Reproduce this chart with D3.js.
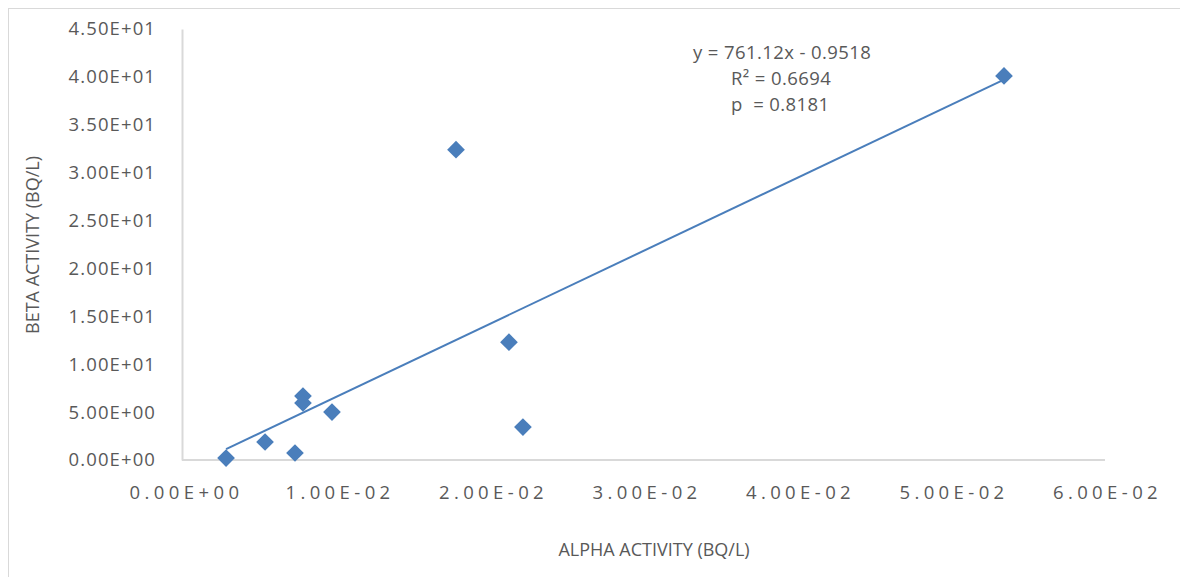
<!DOCTYPE html>
<html>
<head>
<meta charset="utf-8">
<script src="https://cdn.jsdelivr.net/npm/d3@7"></script>
<style>
  body { margin: 0; background: #fff; }
  text { font-family: "Open Sans", "Liberation Sans", sans-serif; fill: #595959; white-space: pre; }
</style>
</head>
<body>
<script>
// alpha activity (Bq/L) vs beta activity (Bq/L)
var alpha = [0.00274, 0.00528, 0.00723, 0.00775, 0.00775, 0.00964, 0.01772, 0.02117, 0.02208, 0.05342];
var beta  = [0.2, 1.88, 0.73, 6.68, 5.95, 5.0, 32.4, 12.3, 3.44, 40.1];
var xTicks = [0, 0.01, 0.02, 0.03, 0.04, 0.05, 0.06];
var yTicks = [0, 5, 10, 15, 20, 25, 30, 35, 40, 45];
var slope = 761.12, intercept = -0.9518;
var fitLabels = ["y = 761.12x - 0.9518", "R² = 0.6694", "p  = 0.8181"];

var W = 1180, H = 577;
var svg = d3.select("body").append("svg").attr("width", W).attr("height", H);

// outer chart border
svg.append("rect").attr("x", 8.5).attr("y", 8.5).attr("width", W - 8).attr("height", H - 8)
  .attr("fill", "none").attr("stroke", "#d9d9d9");

var x = d3.scaleLinear().domain([0, 0.06]).range([184, 1105]);
var y = d3.scaleLinear().domain([0, 45]).range([460, 29]);

function sci(d) { return d3.format(".2e")(d).replace(/e([+-])(\d)$/, "e$10$2").toUpperCase(); }

// axes
var yAxis = svg.append("g").attr("transform", "translate(182,0)")
  .call(d3.axisLeft(y).tickValues(yTicks).tickSize(0).tickPadding(26).tickFormat(sci));
yAxis.select(".domain").attr("stroke", "#d9d9d9").attr("stroke-width", 2);
yAxis.selectAll("text").attr("font-size", 18.5).attr("letter-spacing", 1.1).style("fill", "#595959");

var xAxis = svg.append("g").attr("transform", "translate(0,460)")
  .call(d3.axisBottom(x).tickValues(xTicks).tickSize(0).tickPadding(26).tickFormat(sci));
xAxis.select(".domain").attr("stroke", "#d9d9d9").attr("stroke-width", 2).attr("d", "M182,0H1105");
xAxis.selectAll("text").attr("font-size", 18.5).attr("letter-spacing", 4.4).attr("dx", 2).style("fill", "#595959");

// trend line
var xmin = d3.min(alpha), xmax = d3.max(alpha);
svg.append("line")
  .attr("x1", x(xmin)).attr("y1", y(slope * xmin + intercept))
  .attr("x2", x(xmax)).attr("y2", y(slope * xmax + intercept))
  .attr("stroke", "#4a7ebb").attr("stroke-width", 2);

// markers
var diamond = d3.symbol().type(d3.symbolDiamond2).size(200);
svg.selectAll("path.pt").data(alpha).enter().append("path")
  .attr("class", "pt")
  .attr("d", diamond)
  .attr("transform", function(d, i) { return "translate(" + x(d) + "," + y(beta[i]) + ")"; })
  .attr("fill", "#4a7ebb");

// fit annotation
svg.selectAll("text.fit").data(fitLabels).enter().append("text")
  .attr("class", "fit")
  .attr("x", function(d, i) { return i == 0 ? 693 : 731; })
  .attr("y", function(d, i) { return 59 + i * 26; })
  .attr("font-size", 18.5)
  .attr("letter-spacing", 0.4)
  .text(function(d) { return d; });

// axis titles
svg.append("text").attr("x", 654).attr("y", 556).attr("text-anchor", "middle")
  .attr("font-size", 18).text("ALPHA ACTIVITY (BQ/L)");
svg.append("text").attr("transform", "translate(39,245) rotate(-90)").attr("text-anchor", "middle")
  .attr("font-size", 18).text("BETA ACTIVITY (BQ/L)");
</script>
</body>
</html>
